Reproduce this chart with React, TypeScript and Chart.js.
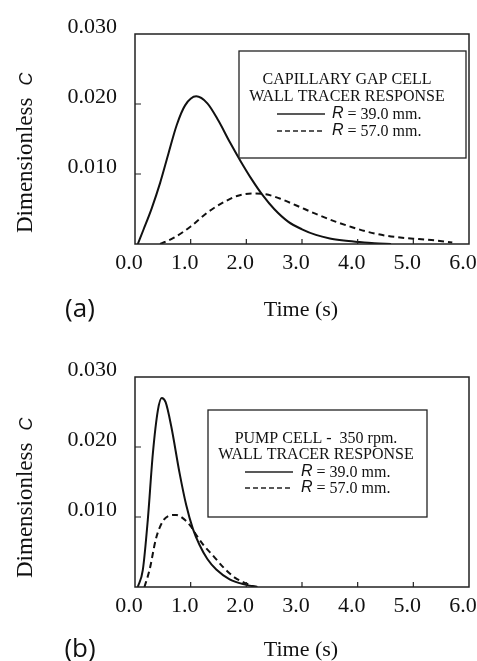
import React, { useEffect, useRef } from "react";
import { Chart, registerables } from "chart.js";

Chart.register(...registerables);

// ---------- DATA ----------
const timeTicks = [0, 1, 2, 3, 4, 5, 6];
const concTicks = [0.01, 0.02, 0.03];

// Panel (a): capillary gap cell
const timeA39 = [0.05, 0.15, 0.3, 0.45, 0.6, 0.75, 0.9, 1.1, 1.3, 1.5, 1.7, 1.9, 2.1, 2.3, 2.5, 2.75, 3.0, 3.25, 3.5, 3.75, 4.0, 4.3, 4.6];
const concA39 = [0, 0.002, 0.0051, 0.0087, 0.0129, 0.017, 0.0198, 0.0211, 0.0201, 0.0176, 0.0146, 0.0118, 0.0092, 0.0069, 0.005, 0.0032, 0.0021, 0.0013, 0.0008, 0.0005, 0.0003, 0.0001, 0];
const timeA57 = [0.45, 0.7, 1.0, 1.3, 1.6, 1.85, 2.1, 2.35, 2.6, 2.9, 3.25, 3.6, 3.9, 4.2, 4.5, 4.8, 5.1, 5.4, 5.7];
const concA57 = [0, 0.0009, 0.0025, 0.0045, 0.006, 0.0069, 0.0072, 0.0071, 0.0065, 0.0055, 0.0043, 0.0032, 0.0024, 0.0017, 0.0012, 0.0009, 0.0007, 0.0005, 0.0002];

// Panel (b): pump cell - 350 rpm
const timeB39 = [0.05, 0.14, 0.23, 0.32, 0.41, 0.48, 0.55, 0.65, 0.8, 0.92, 1.04, 1.16, 1.3, 1.46, 1.7, 2.0, 2.2];
const concB39 = [0, 0.0024, 0.0096, 0.019, 0.0252, 0.027, 0.0264, 0.023, 0.0163, 0.0117, 0.0083, 0.006, 0.004, 0.0025, 0.0011, 0.0003, 0];
const timeB57 = [0.17, 0.26, 0.38, 0.5, 0.62, 0.74, 0.88, 1.0, 1.12, 1.25, 1.4, 1.6, 1.8, 2.0, 2.15];
const concB57 = [0, 0.0024, 0.007, 0.0094, 0.0102, 0.0103, 0.0097, 0.0087, 0.0072, 0.0058, 0.0045, 0.0027, 0.0013, 0.0005, 0];

const legendTitleA = ["CAPILLARY GAP CELL", "WALL TRACER RESPONSE"];
const legendTitleB = ["PUMP CELL -  350 rpm.", "WALL TRACER RESPONSE"];
const seriesNames = ["= 39.0 mm.", "= 57.0 mm."];
const xTitle = "Time (s)";
const yTitle = "Dimensionless";
const ySymbol = "C";

// ---------- LAYOUT ----------
const SERIF = "'Liberation Serif', 'Times New Roman', serif";
const SANS = "'Liberation Sans', Arial, sans-serif";

type Panel = {
  top: number;
  height: number;
  areaTop: number;
  areaBottom: number;
  letter: string;
  legendLines: string[];
  box: { x: number; y: number; w: number; h: number };
  textCenter: number;
  lineYs: number[];
  sample: { x1: number; x2: number; tx: number };
  yTitleBottom: number;
  xTitleY: number;
  t39: number[];
  c39: number[];
  t57: number[];
  c57: number[];
};

const panels: Panel[] = [
  {
    top: 0,
    height: 330,
    areaTop: 34,
    areaBottom: 244,
    letter: "(a)",
    legendLines: legendTitleA,
    box: { x: 239, y: 51, w: 227, h: 107 },
    textCenter: 347,
    lineYs: [80, 97, 114, 131],
    sample: { x1: 277, x2: 325, tx: 332 },
    yTitleBottom: 233,
    xTitleY: 310,
    t39: timeA39,
    c39: concA39,
    t57: timeA57,
    c57: concA57,
  },
  {
    top: 330,
    height: 331,
    areaTop: 47,
    areaBottom: 257,
    letter: "(b)",
    legendLines: legendTitleB,
    box: { x: 208, y: 80, w: 219, h: 107 },
    textCenter: 316,
    lineYs: [109, 125, 142, 158],
    sample: { x1: 245, x2: 293, tx: 301 },
    yTitleBottom: 248,
    xTitleY: 320,
    t39: timeB39,
    c39: concB39,
    t57: timeB57,
    c57: concB57,
  },
];

const W = 477;
const AREA_LEFT = 135;
const AREA_RIGHT = 469;

function makeDecorPlugin(p: Panel) {
  return {
    id: "decor",
    afterDraw(chart: any) {
      const ctx = chart.ctx as CanvasRenderingContext2D;
      const a = chart.chartArea;
      const xs = chart.scales.x;
      const ys = chart.scales.y;
      ctx.save();
      // plot frame
      ctx.strokeStyle = "#222";
      ctx.lineWidth = 1.5;
      ctx.setLineDash([]);
      ctx.strokeRect(a.left, a.top, a.right - a.left, a.bottom - a.top);
      // inner tick marks
      ctx.lineWidth = 1.2;
      ctx.beginPath();
      for (const v of concTicks) {
        if (v >= 0.03) continue;
        const y = ys.getPixelForValue(v);
        ctx.moveTo(a.left, y);
        ctx.lineTo(a.left + 6, y);
      }
      for (const v of timeTicks) {
        if (v <= 0 || v >= 6) continue;
        const x = xs.getPixelForValue(v);
        ctx.moveTo(x, a.bottom);
        ctx.lineTo(x, a.bottom - 5);
      }
      ctx.stroke();

      // legend box
      const b = p.box;
      ctx.lineWidth = 1.3;
      ctx.strokeStyle = "#222";
      ctx.fillStyle = "#fff";
      ctx.fillRect(b.x, b.y, b.w, b.h);
      ctx.strokeRect(b.x, b.y, b.w, b.h);
      ctx.fillStyle = "#111";
      ctx.textBaseline = "middle";
      ctx.textAlign = "center";
      ctx.font = `16px ${SERIF}`;
      ctx.fillText(p.legendLines[0], p.textCenter, p.lineYs[0]);
      ctx.fillText(p.legendLines[1], p.textCenter, p.lineYs[1]);
      for (let i = 0; i < 2; i++) {
        const y = p.lineYs[2 + i];
        ctx.beginPath();
        ctx.lineWidth = 1.4;
        ctx.setLineDash(i === 0 ? [] : [5, 3]);
        ctx.moveTo(p.sample.x1, y);
        ctx.lineTo(p.sample.x2, y);
        ctx.stroke();
        ctx.setLineDash([]);
        ctx.textAlign = "left";
        ctx.font = `italic 16px ${SANS}`;
        ctx.fillText("R", p.sample.tx, y);
        const rw = ctx.measureText("R").width;
        ctx.font = `16px ${SERIF}`;
        ctx.fillText(" " + seriesNames[i], p.sample.tx + rw, y + 1);
      }

      // y-axis title (rotated)
      ctx.save();
      ctx.translate(32, p.yTitleBottom);
      ctx.rotate(-Math.PI / 2);
      ctx.textAlign = "left";
      ctx.textBaseline = "alphabetic";
      ctx.font = `23px ${SERIF}`;
      ctx.fillText(yTitle, 0, 0);
      const tw = ctx.measureText(yTitle).width;
      ctx.font = `italic 18px ${SANS}`;
      ctx.fillText(ySymbol, tw + 12, 0);
      ctx.restore();

      // x-axis title
      ctx.textAlign = "center";
      ctx.textBaseline = "middle";
      ctx.font = `22px ${SERIF}`;
      ctx.fillText(xTitle, (a.left + a.right) / 2 - 1, p.xTitleY);
      // panel letter
      ctx.font = `26px 'Open Sans', ${SANS}`;
      ctx.fillText(p.letter, 80, p.xTitleY);
      ctx.restore();
    },
  };
}

function ChartPanel({ p }: { p: Panel }) {
  const ref = useRef<HTMLCanvasElement | null>(null);
  useEffect(() => {
    if (!ref.current) return;
    const toPts = (t: number[], c: number[]) => t.map((x, i) => ({ x, y: c[i] }));
    const chart = new Chart(ref.current, {
      type: "line",
      data: {
        datasets: [
          {
            label: "R = 39.0 mm.",
            data: toPts(p.t39, p.c39),
            borderColor: "#111",
            borderWidth: 2,
            pointRadius: 0,
            fill: false,
            cubicInterpolationMode: "monotone",
          },
          {
            label: "R = 57.0 mm.",
            data: toPts(p.t57, p.c57),
            borderColor: "#111",
            borderWidth: 2,
            borderDash: [6, 4],
            pointRadius: 0,
            fill: false,
            cubicInterpolationMode: "monotone",
          },
        ],
      },
      options: {
        responsive: false,
        animation: false,
        devicePixelRatio: 1,
        layout: { padding: { top: p.areaTop, right: W - AREA_RIGHT, left: 0, bottom: 0 } },
        plugins: { legend: { display: false }, tooltip: { enabled: false }, title: { display: false } },
        scales: {
          x: {
            type: "linear",
            min: 0,
            max: 6,
            afterBuildTicks: (s: any) => {
              s.ticks = timeTicks.map((v) => ({ value: v }));
            },
            afterFit: (s: any) => {
              s.height = p.height - p.areaBottom;
              s.paddingLeft = 0;
              s.paddingRight = 0;
            },
            grid: { display: false, drawTicks: false },
            border: { display: false },
            ticks: {
              autoSkip: false,
              maxRotation: 0,
              padding: 6,
              labelOffset: -6,
              color: "#111",
              font: { family: SERIF, size: 22 },
              callback: (v: any) => Number(v).toFixed(1),
            },
          },
          y: {
            type: "linear",
            min: 0,
            max: 0.03,
            afterBuildTicks: (s: any) => {
              s.ticks = concTicks.map((v) => ({ value: v }));
            },
            afterFit: (s: any) => {
              s.width = AREA_LEFT;
              s.paddingTop = 0;
              s.paddingBottom = 0;
            },
            grid: { display: false, drawTicks: false },
            border: { display: false },
            ticks: {
              autoSkip: false,
              padding: 18,
              labelOffset: -7,
              color: "#111",
              font: { family: SERIF, size: 22 },
              callback: (v: any) => Number(v).toFixed(3),
            },
          },
        },
      } as any,
      plugins: [makeDecorPlugin(p)],
    });
    return () => chart.destroy();
  }, [p]);
  return (
    <canvas
      ref={ref}
      width={W}
      height={p.height}
      style={{ position: "absolute", left: 0, top: p.top, width: W, height: p.height, display: "block" }}
    />
  );
}

export default function App() {
  return (
    <div style={{ position: "absolute", left: 0, top: 0, width: W, height: 661, background: "#fff", overflow: "hidden" }}>
      {panels.map((p) => (
        <ChartPanel key={p.letter} p={p} />
      ))}
    </div>
  );
}
